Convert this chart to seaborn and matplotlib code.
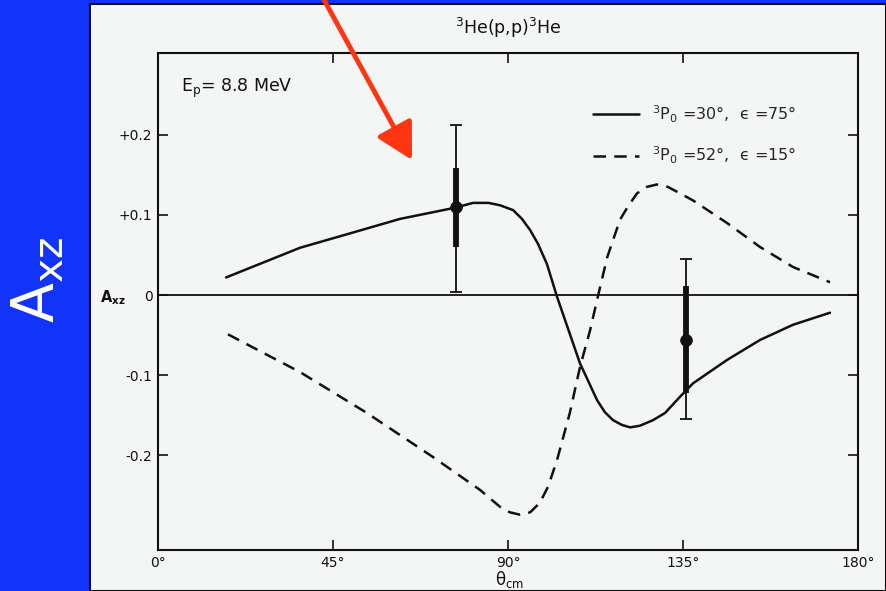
import numpy as np
import pandas as pd
import matplotlib
matplotlib.use("Agg")
import matplotlib.pyplot as plt
from matplotlib.patches import Rectangle
import seaborn as sns

# ---- data -------------------------------------------------------------
# theory curve: 3P0 = 30 deg, eps = 75 deg (solid)
theta_a = [17.5, 36.5, 49.4, 62.2, 76.4, 81.0, 85.0, 88.0, 91.3, 93.6,
           95.7, 97.7, 100.0, 102.6, 108.5, 112.9, 114.9, 117.0, 119.3,
           121.4, 123.9, 127.3, 130.4, 134.2, 137.6, 146.3, 154.8, 163.3,
           172.8]
axz_a = [0.022, 0.059, 0.077, 0.095, 0.109, 0.115, 0.115, 0.112, 0.106,
         0.095, 0.081, 0.064, 0.039, -0.002, -0.085, -0.131, -0.146,
         -0.156, -0.162, -0.165, -0.163, -0.156, -0.147, -0.127, -0.110,
         -0.081, -0.056, -0.037, -0.022]

# theory curve: 3P0 = 52 deg, eps = 15 deg (dashed)
theta_b = [18.0, 36.5, 53.7, 70.7, 82.8, 87.9, 90.5, 93.1, 95.7, 98.2,
           100.3, 102.6, 105.9, 108.5, 111.1, 113.1, 115.5, 118.8, 120.9,
           123.2, 125.7, 128.3, 131.1, 134.2, 137.6, 146.3, 154.8, 163.3,
           172.8]
axz_b = [-0.049, -0.096, -0.147, -0.202, -0.243, -0.264, -0.271, -0.274,
         -0.271, -0.259, -0.239, -0.206, -0.147, -0.090, -0.044, -0.002,
         0.047, 0.094, 0.111, 0.127, 0.135, 0.138, 0.135, 0.127, 0.118,
         0.090, 0.060, 0.035, 0.016]

# measured points with inner (thick) and outer (thin) error ranges
theta_pts = [76.6, 135.8]
axz_pts = [0.110, -0.056]
inner_hi = [0.158, 0.011]
inner_lo = [0.060, -0.122]
outer_hi = [0.212, 0.045]
outer_lo = [0.004, -0.155]

label_a = r"$^{3}$P$_{0}$ =30°,  ϵ =75°"
label_b = r"$^{3}$P$_{0}$ =52°,  ϵ =15°"

xticks = [0, 45, 90, 135, 180]
xticklabels = ["0°", "45°", "90°", "135°", "180°"]
yticks = [0.2, 0.1, 0.0, -0.1, -0.2]
yticklabels = ["+0.2", "+0.1", "0", "-0.1", "-0.2"]

# ---- figure -----------------------------------------------------------
sns.set_style("ticks")
plt.rcParams["font.family"] = ["DejaVu Sans"]
plt.rcParams["mathtext.default"] = "regular"

W, H = 886, 591
fig = plt.figure(figsize=(W / 100, H / 100), dpi=100)
blue = "#1234f8"
paper = "#f4f5f5"
ink = "#111111"
fig.patch.set_facecolor(blue)

# scanned sheet
fig.add_artist(Rectangle((90 / W, 0), 1 - 90 / W, 1 - 4 / H,
                         transform=fig.transFigure, facecolor=paper,
                         edgecolor="#101010", lw=1.5, zorder=0))

ax = fig.add_axes([158 / W, 1 - 550 / H, 700 / W, 497 / H])
ax.set_facecolor(paper)

df_a = pd.DataFrame({"theta": theta_a, "axz": axz_a})
df_b = pd.DataFrame({"theta": theta_b, "axz": axz_b})
sns.lineplot(data=df_a, x="theta", y="axz", ax=ax, color=ink, lw=1.8,
             estimator=None, label=label_a)
sns.lineplot(data=df_b, x="theta", y="axz", ax=ax, color=ink, lw=1.8,
             estimator=None, label=label_b)
ax.lines[-1].set_dashes((5, 3.3))

ax.axhline(0, color=ink, lw=1.3, zorder=1)

pts = np.array(axz_pts)
ax.errorbar(theta_pts, pts,
            yerr=[pts - np.array(outer_lo), np.array(outer_hi) - pts],
            fmt="none", ecolor=ink, elinewidth=1.3, capsize=4, capthick=1.3,
            zorder=3)
ax.errorbar(theta_pts, pts,
            yerr=[pts - np.array(inner_lo), np.array(inner_hi) - pts],
            fmt="none", ecolor=ink, elinewidth=4.2, capsize=0, zorder=4)
sns.scatterplot(x=theta_pts, y=axz_pts, ax=ax, color=ink, s=70,
                edgecolor=ink, zorder=5, legend=False)

ax.set_xlim(0, 180)
ax.set_ylim(-0.318, 0.302)
ax.set_xticks(xticks)
ax.set_xticklabels(xticklabels)
ax.set_yticks(yticks)
ax.set_yticklabels(yticklabels)
ax.tick_params(direction="in", top=True, right=True, length=7, width=1.2,
               labelsize=10, colors=ink, pad=4)
for s in ax.spines.values():
    s.set_linewidth(1.5)
    s.set_color(ink)
ax.set_xlabel("")
ax.set_ylabel("")

leg = ax.legend(loc="upper left", bbox_to_anchor=(0.61, 0.915),
                frameon=False, fontsize=11.5, handlelength=2.9,
                handletextpad=0.8, labelspacing=1.25, borderpad=0)
for h in leg.get_lines():
    h.set_linewidth(1.8)

# annotations on the sheet
fig.text(508 / W, 1 - 28 / H, r"$^{3}$He(p,p)$^{3}$He", ha="center",
         va="center", fontsize=12.5, color=ink)
fig.text(181 / W, 1 - 88 / H, r"E$_{\mathrm{p}}$= 8.8 MeV", ha="left",
         va="center", fontsize=12.5, color=ink)
fig.text(113 / W, 1 - 298 / H, r"$\mathbf{A_{xz}}$", ha="center",
         va="center", fontsize=10.5, color=ink)
fig.text(510 / W, 1 - 569 / H, r"$\theta_{\mathrm{cm}}$", ha="center",
         va="top", fontsize=12, color=ink)

# slide overlay
fig.text(38 / W, 1 - 280 / H, r"A$_{\mathrm{xz}}$", rotation=90,
         ha="center", va="center", fontsize=42, color="white")
ax.annotate("", xy=(412, H - 160), xytext=(323, H + 2),
            xycoords="figure pixels", textcoords="figure pixels",
            arrowprops=dict(arrowstyle="-|>,head_length=1.1,head_width=0.6",
                            mutation_scale=20, lw=3.5, color="#ff3410",
                            shrinkA=0, shrinkB=0),
            annotation_clip=False)

fig.savefig("out.png", dpi=100, facecolor=fig.get_facecolor())
